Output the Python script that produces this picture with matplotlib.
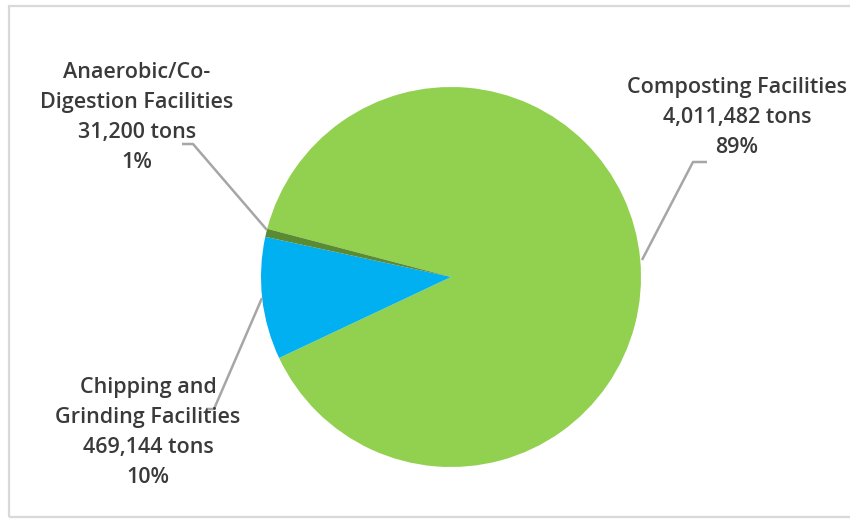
import matplotlib.pyplot as plt
from matplotlib.patches import Rectangle

# data
names = ['Composting Facilities', 'Chipping and\nGrinding Facilities', 'Anaerobic/Co-\nDigestion Facilities']
tons = [4011482, 469144, 31200]
pct_labels = ['89%', '10%', '1%']
colors = ['#92D050', '#00B0F0', '#5A8A32']

W, H = 850, 522
fig = plt.figure(figsize=(W / 100, H / 100), dpi=100)
ax = fig.add_axes([0, 0, 1, 1])


def py(y):
    # pixel row (from top) -> data y
    return H - y


# chart border
ax.add_patch(Rectangle((9, py(517)), 870, 511, fill=False, ec='#D9D9D9', lw=1.6))

ax.pie(tons, colors=colors, center=(451, py(277)), radius=190,
       startangle=165.3, counterclock=False, frame=True,
       wedgeprops=dict(linewidth=0))
ax.set_xlim(0, W)
ax.set_ylim(0, H)
ax.set_aspect('equal')
ax.axis('off')

# label text, centre x and first line y (pixels)
label_pos = [(737, 88), (148, 388), (137, 73)]
leader = [
    [(642, 260), (693, 162), (707, 162)],
    [(262, 298), (214, 409), (206, 409)],
    [(267, 230), (193, 144), (182, 144)],
]

for i in range(3):
    lines = names[i].split('\n') + ['{:,} tons'.format(tons[i]), pct_labels[i]]
    x0, y0 = label_pos[i]
    for k, s in enumerate(lines):
        ax.text(x0, py(y0 + 29.8 * k), s, ha='center', va='center',
                fontsize=15.5, fontweight='semibold', color='#3A3A3A',
                family=['Open Sans', 'DejaVu Sans'])
    xs = [p[0] for p in leader[i]]
    ys = [py(p[1]) for p in leader[i]]
    ax.plot(xs, ys, color='#A6A6A6', lw=1.8, solid_capstyle='butt')

fig.savefig('out.png', dpi=100)
